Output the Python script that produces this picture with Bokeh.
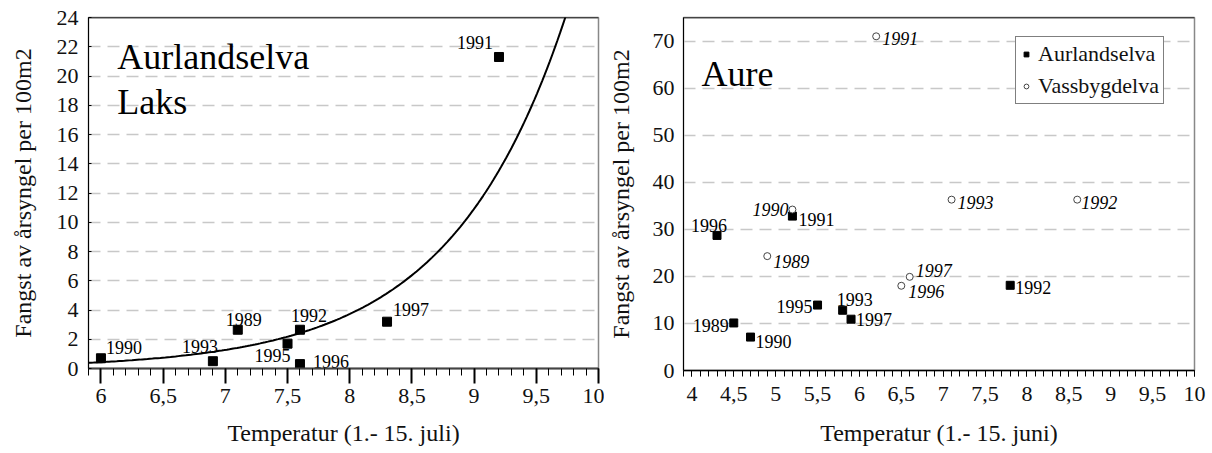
import numpy as np
from bokeh.plotting import figure
from bokeh.models import FixedTicker, Span, Legend, LegendItem, Range1d, InlineStyleSheet
from bokeh.layouts import row
from bokeh.core.properties import value
from bokeh.embed import file_html
from bokeh.resources import INLINE

FONT = "Liberation Serif"
INK = "#111111"

# ---------------- data: Aurlandselva, laks (July temperature) ----------------
laks_year = ["1990", "1993", "1989", "1995", "1992", "1996", "1997", "1991"]
laks_temp = [6.0, 6.9, 7.1, 7.5, 7.6, 7.6, 8.3, 9.2]
laks_catch = [0.7, 0.5, 2.65, 1.7, 2.65, 0.3, 3.2, 21.3]
# exponential trend line y = A * exp(B * x), coefficients
TREND_A = 6.86e-4
TREND_B = 1.075

# ---------------- data: aure (June temperature) ----------------
aur_year = ["1996", "1989", "1990", "1995", "1993", "1997", "1991", "1992"]
aur_temp = [4.3, 4.5, 4.7, 5.5, 5.8, 5.9, 5.2, 7.8]
aur_catch = [28.7, 10.1, 7.1, 13.9, 12.8, 10.9, 32.8, 18.1]

vas_year = ["1991", "1990", "1989", "1996", "1997", "1993", "1992"]
vas_temp = [6.2, 5.2, 4.9, 6.5, 6.6, 7.1, 8.6]
vas_catch = [71.0, 34.2, 24.3, 18.0, 19.9, 36.3, 36.3]

# ---------------- ticks ----------------
left_xticks = [6, 6.5, 7, 7.5, 8, 8.5, 9, 9.5, 10]
left_xlabels = ["6", "6,5", "7", "7,5", "8", "8,5", "9", "9,5", "10"]
left_yticks = [0, 2, 4, 6, 8, 10, 12, 14, 16, 18, 20, 22, 24]
right_xticks = [4, 4.5, 5, 5.5, 6, 6.5, 7, 7.5, 8, 8.5, 9, 9.5, 10]
right_xlabels = ["4", "4,5", "5", "5,5", "6", "6,5", "7", "7,5", "8", "8,5", "9", "9,5", "10"]
right_yticks = [0, 10, 20, 30, 40, 50, 60, 70]

# label placement (align, dx px, dy px; dy positive = down) -- layout only
laks_place = {
    "1990": ("left", 5, -11), "1993": ("right", 5, -15), "1989": ("center", 6, -10),
    "1995": ("right", 3, 12), "1992": ("center", 9, -14), "1996": ("left", 13, -3),
    "1997": ("left", 6, -12), "1991": ("right", -6, -14),
}
aur_place = {
    "1996": ("center", -8, -10), "1989": ("right", -5, 3), "1990": ("left", 5, 4),
    "1995": ("right", -5, 1), "1993": ("center", 12, -11), "1997": ("left", 5, 0),
    "1991": ("left", 6, 3), "1992": ("left", 5, 2),
}
vas_place = {
    "1991": ("left", 6, 2), "1990": ("right", -4, 0), "1989": ("left", 6, 5),
    "1996": ("left", 7, 6), "1997": ("left", 6, -6), "1993": ("left", 6, 3),
    "1992": ("left", 4, 3),
}

GRID_COLOR = "#c8c8c8"
CSS = (":host { font-family: 'Liberation Serif', serif !important; } "
       "text { font-family: 'Liberation Serif', serif !important; } "
       "div, span { font-family: 'Liberation Serif', serif; }")


def add_labels(p, xs, ys, texts, place, style):
    for x, y, t in zip(xs, ys, texts):
        align, dx, dy = place[t]
        p.text(x=[x], y=[y], text=[t], x_offset=dx, y_offset=dy,
               text_align=align, text_baseline="middle",
               text_font=value(FONT), text_font_size="18px",
               text_font_style=style, text_color="black")


def big_text(p, x, y, txt):
    p.text(x=[x], y=[y], text=[txt], text_align="left", text_baseline="alphabetic",
           text_font=value(FONT), text_font_size="36px", text_color="black")


def style_common(p):
    p.outline_line_color = "#888888"
    p.outline_line_width = 1.5
    p.xgrid.grid_line_color = None
    p.ygrid.grid_line_color = GRID_COLOR
    p.ygrid.grid_line_dash = "12 7"
    p.ygrid.grid_line_width = 1.5
    for ax in (p.xaxis[0], p.yaxis[0]):
        ax.major_label_text_font = FONT
        ax.major_label_text_font_size = "22px"
        ax.major_label_text_color = INK
        ax.axis_label_text_font = FONT
        ax.axis_label_text_font_size = "24px"
        ax.axis_label_text_font_style = "normal"
        ax.axis_label_text_color = INK


# ======================= left panel =======================
left = figure(frame_width=510, frame_height=351,
              x_range=Range1d(5.9, 10), y_range=Range1d(0, 24),
              min_border_left=88, min_border_right=6, min_border_top=17,
              min_border_bottom=85, output_backend="svg", toolbar_location=None,
              stylesheets=[InlineStyleSheet(css=CSS)])
style_common(left)
left.xaxis.ticker = FixedTicker(ticks=left_xticks,
                                minor_ticks=list(np.round(np.arange(5.9, 10.001, 0.1), 2)))
left.xaxis.major_label_overrides = {t: l for t, l in zip(left_xticks, left_xlabels)}
left.yaxis.ticker = FixedTicker(ticks=left_yticks)
left.ygrid.ticker = FixedTicker(ticks=left_yticks[1:-1])
left.xaxis.axis_label = "Temperatur (1.- 15. juli)"
left.yaxis.axis_label = "Fangst av årsyngel per 100m2"
left.xaxis.axis_line_color = "#444444"
left.xaxis.axis_line_width = 2
left.xaxis.major_tick_line_color = "black"
left.xaxis.minor_tick_line_color = "black"
left.xaxis.major_tick_out = 15
left.xaxis.major_tick_in = 0
left.xaxis.major_tick_line_width = 2
left.xaxis.minor_tick_out = 7
left.xaxis.minor_tick_in = 0
left.xaxis.major_label_standoff = 5
left.xaxis.axis_label_standoff = 14
left.yaxis.axis_line_color = "black"
left.yaxis.major_tick_line_color = "black"
left.yaxis.major_tick_in = 3
left.yaxis.major_tick_out = 0
left.yaxis.minor_tick_in = 0
left.yaxis.minor_tick_out = 0
left.yaxis.major_label_standoff = 10
left.yaxis.axis_label_standoff = 18
left.add_layout(Span(location=24, dimension="width", line_color="black", line_width=1.5))

cx = np.linspace(5.9, 10, 200)
left.line(cx, TREND_A * np.exp(TREND_B * cx), line_color="black", line_width=2)
left.scatter(laks_temp, laks_catch, marker="square", size=9,
             fill_color="black", line_color="black")
add_labels(left, laks_temp, laks_catch, laks_year, laks_place, "normal")
big_text(left, 6.132, 21.27, "Aurlandselva")
big_text(left, 6.132, 18.19, "Laks")

# ======================= right panel =======================
right = figure(frame_width=511, frame_height=353,
               x_range=Range1d(3.9, 10), y_range=Range1d(0, 75),
               min_border_left=78, min_border_right=19, min_border_top=17,
               min_border_bottom=83, output_backend="svg", toolbar_location=None,
               stylesheets=[InlineStyleSheet(css=CSS)])
style_common(right)
right.xaxis.ticker = FixedTicker(ticks=right_xticks,
                                 minor_ticks=list(np.round(np.arange(3.9, 10.001, 0.1), 2)))
right.xaxis.major_label_overrides = {t: l for t, l in zip(right_xticks, right_xlabels)}
right.yaxis.ticker = FixedTicker(ticks=right_yticks)
right.ygrid.ticker = FixedTicker(ticks=right_yticks[1:])
right.xaxis.axis_label = "Temperatur (1.- 15. juni)"
right.yaxis.axis_label = "Fangst av årsyngel per 100m2"
right.xaxis.axis_line_color = "black"
right.xaxis.axis_line_width = 1.5
right.xaxis.major_tick_line_color = "black"
right.xaxis.minor_tick_line_color = "black"
right.xaxis.major_tick_out = 6
right.xaxis.major_tick_in = 0
right.xaxis.minor_tick_out = 6
right.xaxis.minor_tick_in = 0
right.xaxis.major_label_standoff = 10
right.xaxis.axis_label_standoff = 16
right.yaxis.axis_line_color = "black"
right.yaxis.major_tick_in = 0
right.yaxis.major_tick_out = 0
right.yaxis.minor_tick_out = 0
right.yaxis.minor_tick_in = 0
right.yaxis.major_label_standoff = 9
right.yaxis.axis_label_standoff = 16
right.add_layout(Span(location=75, dimension="width", line_color="black", line_width=1.5))

r_aur = right.scatter(aur_temp, aur_catch, marker="square", size=8,
                      fill_color="black", line_color="black")
r_vas = right.scatter(vas_temp, vas_catch, marker="circle", size=7,
                      fill_color="white", line_color="#444444", line_width=1)
add_labels(right, aur_temp, aur_catch, aur_year, aur_place, "normal")
add_labels(right, vas_temp, vas_catch, vas_year, vas_place, "italic")
big_text(right, 4.115, 63.1, "Aure")

legend = Legend(items=[LegendItem(label="Aurlandselva", renderers=[r_aur]),
                       LegendItem(label="Vassbygdelva", renderers=[r_vas])],
                location=(332, 266))
legend.label_text_font = FONT
legend.label_text_font_size = "22px"
legend.label_text_color = INK
legend.border_line_color = "black"
legend.border_line_width = 1
legend.background_fill_color = "white"
legend.background_fill_alpha = 1
legend.glyph_width = 12
legend.glyph_height = 14
legend.label_standoff = 6
legend.padding = 4
legend.spacing = 6
legend.margin = 0
right.add_layout(legend)

layout = row(left, right, stylesheets=[InlineStyleSheet(css=CSS)])
html = file_html(layout, INLINE)
html = html.replace("</head>",
                    "<style>html, body { font-family: 'Liberation Serif', serif; } "
                    "text { font-family: 'Liberation Serif', serif !important; }</style></head>", 1)
open("out.html", "w").write(html)
